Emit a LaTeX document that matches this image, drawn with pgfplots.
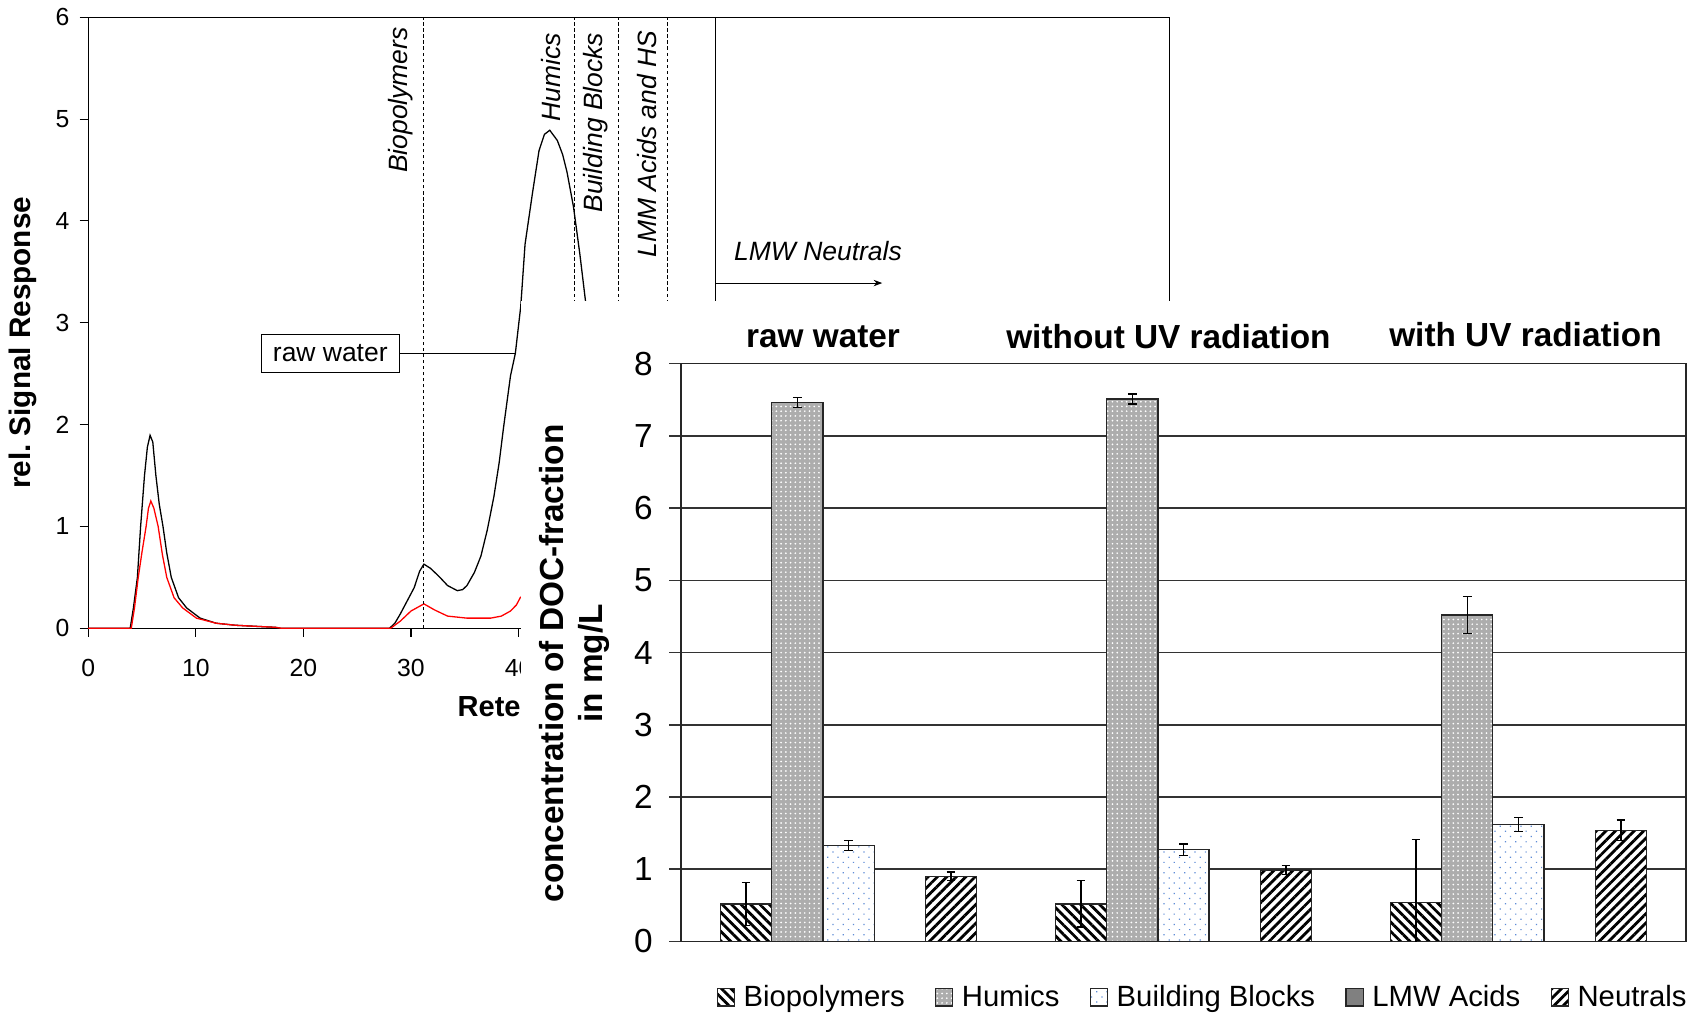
\documentclass[border=0pt]{standalone}
\usepackage{pgfplots}
\pgfplotsset{compat=1.18}
\usepackage{fontspec}
\setmainfont{Liberation Sans}
\usetikzlibrary{patterns.meta,arrows.meta,calc}

\definecolor{bbdot}{RGB}{95,140,215}
\definecolor{lmwgray}{RGB}{128,128,128}

\pgfplotsset{
  biostyle/.style={draw=black!85, line width=0.6pt, fill=white,
    postaction={pattern={Lines[angle=-45,distance=3.1pt,line width=1.3pt]}, pattern color=black}},
  humstyle/.style={draw=black!85, line width=0.6pt, fill=black!32,
    postaction={pattern={Dots[distance=2.2pt,radius=0.45pt]}, pattern color=white}},
  bbstyle/.style={draw=black!85, line width=0.6pt, fill=white,
    postaction={pattern={Dots[distance=3.4pt,angle=45,radius=0.4pt]}, pattern color=bbdot}},
  lmwstyle/.style={draw=black!85, line width=0.6pt, fill=lmwgray},
  neustyle/.style={draw=black!85, line width=0.6pt, fill=white,
    postaction={pattern={Lines[angle=45,distance=3.1pt,line width=1.3pt]}, pattern color=black}},
}

\begin{document}
\begin{tikzpicture}
% ---------------- chromatogram (background) ----------------
\begin{axis}[
  at={(41pt,-292pt)}, anchor=south west,
  scale only axis, width=502.5pt, height=284pt,
  xmin=0, xmax=100.5, ymin=0, ymax=6,
  xtick={0,10,20,30,40}, ytick={0,1,...,6},
  tick align=outside, xtick pos=left, ytick pos=left,
  major tick length=4pt,
  tick style={black, line width=0.5pt},
  axis line style={black, line width=0.6pt},
  /pgf/number format/assume math mode=true,
  tick label style={font=\fontsize{11.5}{13}\selectfont, inner sep=0pt},
  xticklabel shift=10pt,
  yticklabel shift=4.5pt,
  ylabel={rel.\ Signal Response},
  ylabel style={at={($(rel axis cs:0,0.467)+(-23.75pt,0)$)}, anchor=south, inner sep=0pt,
    font=\bfseries\fontsize{13.8}{16}\selectfont},
  xlabel={Rete},
  xlabel style={at={(rel axis cs:0.3413,0)}, anchor=north west, inner sep=0pt, yshift=-31.5pt,
    font=\bfseries\fontsize{13.5}{16}\selectfont},
]
\addplot[black, line width=0.6pt] coordinates {
(0,0) (3.9,0) (4.2,0.2) (4.57,0.5) (4.87,1.0) (5.23,1.5) (5.5,1.78) (5.75,1.895) (6.0,1.83)
(6.29,1.5) (6.6,1.22) (6.95,1.0) (7.3,0.74) (7.72,0.5) (8.4,0.3) (9.15,0.2) (10.4,0.1)
(11.9,0.05) (13.7,0.03) (15.5,0.02) (17.4,0.01) (17.9,0) (28.0,0) (28.5,0.05) (29.0,0.14)
(29.6,0.26) (30.3,0.40) (30.8,0.56) (31.2,0.63) (31.8,0.59) (32.6,0.51) (33.4,0.42) (34.3,0.37)
(34.8,0.38) (35.2,0.42) (35.9,0.55) (36.5,0.71) (37.1,0.97) (37.7,1.29) (38.2,1.63) (38.6,1.97)
(39.25,2.48) (39.7,2.70) (40.2,3.16) (40.6,3.77) (41.3,4.28) (41.9,4.69) (42.4,4.85) (42.9,4.89)
(43.6,4.79) (44.1,4.65) (44.5,4.48) (45.1,4.14) (45.7,3.67) (46.2,3.23) (46.8,2.7)
};
\addplot[red, line width=0.6pt] coordinates {
(0,0) (4.0,0) (4.3,0.2) (4.65,0.5) (5.0,0.75) (5.38,1.0) (5.6,1.18) (5.82,1.25) (6.1,1.18)
(6.5,1.0) (6.9,0.72) (7.3,0.5) (7.98,0.3) (8.78,0.2) (10.06,0.1) (11.9,0.05) (13.7,0.03)
(15.5,0.02) (17.4,0.01) (18,0) (28.1,0) (29.0,0.07) (30.0,0.17) (31.2,0.24) (32.2,0.18)
(33.4,0.12) (34.3,0.11) (35.2,0.10) (36.3,0.10) (37.4,0.10) (38.4,0.12) (39.25,0.17)
(39.8,0.23) (40.2,0.31)
};
\addplot[black, line width=0.5pt, dash pattern=on 1.6pt off 1.2pt] coordinates {(31.2,0) (31.2,6)};
\addplot[black, line width=0.5pt, dash pattern=on 1.6pt off 1.2pt] coordinates {(45.2,0) (45.2,6)};
\addplot[black, line width=0.5pt, dash pattern=on 1.6pt off 1.2pt] coordinates {(49.3,0) (49.3,6)};
\addplot[black, line width=0.5pt, dash pattern=on 1.6pt off 1.2pt] coordinates {(53.8,0) (53.8,6)};
\addplot[black, line width=0.6pt] coordinates {(58.3,0) (58.3,6)};
\addplot[black, line width=0.5pt, -{Stealth[length=4pt,width=3pt]}] coordinates {(58.3,3.39) (73.8,3.39)};

\node[rotate=90, anchor=east, inner sep=0pt, font=\itshape\fontsize{12.3}{14}\selectfont] at (axis cs:29.0,5.905) {Biopolymers};
\node[rotate=90, anchor=east, inner sep=0pt, font=\itshape\fontsize{12.3}{14}\selectfont] at (axis cs:43.0,5.85) {Humics};
\node[rotate=90, anchor=east, inner sep=0pt, font=\itshape\fontsize{12.3}{14}\selectfont] at (axis cs:47.2,5.85) {Building Blocks};
\node[rotate=90, anchor=east, inner sep=0pt, font=\itshape\fontsize{12.3}{14}\selectfont] at (axis cs:51.9,5.87) {LMM Acids and HS};
\node[anchor=west, inner sep=0pt, font=\itshape\fontsize{12.3}{14}\selectfont] at (axis cs:60.0,3.70) {LMW Neutrals};

\draw[black, line width=0.5pt] (axis cs:28.9,2.70) -- (axis cs:39.7,2.70);
\node[draw=black, fill=white, line width=0.6pt, minimum width=64pt, minimum height=17.5pt, inner sep=0pt,
  font=\fontsize{12.3}{14}\selectfont] at (axis cs:22.5,2.70) {raw water};
\end{axis}

% white panel of the inset chart
\fill[white] (242pt,-140pt) rectangle (790pt,-480pt);

% ---------------- DOC fractions (bar chart) ----------------
\begin{axis}[
  at={(316.5pt,-437.5pt)}, anchor=south west,
  scale only axis, width=467pt, height=268.5pt,
  xmin=-0.5, xmax=2.5, ymin=0, ymax=8,
  xtick=\empty, ytick={0,...,8},
  ymajorgrids, major grid style={black!80, line width=0.7pt},
  tick align=outside, ytick pos=left, major tick length=5.4pt,
  tick style={black!80, line width=0.7pt},
  axis line style={black!85, line width=0.7pt},
  /pgf/number format/assume math mode=true,
  yticklabel style={font=\fontsize{15.5}{18}\selectfont, inner sep=0pt},
  yticklabel shift=7.6pt,
  ylabel={concentration of DOC-fraction\\in mg/L},
  ylabel style={align=center, at={($(rel axis cs:0,0.440)+(-33pt,0)$)}, anchor=south, inner sep=0pt,
    font=\bfseries\fontsize{15.5}{18}\selectfont},
  clip mode=individual,
  error bars/y dir=both, error bars/y explicit,
  error bars/error bar style={black, line width=0.6pt},
  error bars/error mark options={rotate=90, mark size=2pt, line width=0.6pt, black},
  legend columns=5,
  legend cell align=left,
  legend image code/.code={\draw[#1] (0pt,-4pt) rectangle (8pt,4pt);},
  legend style={at={(0.518,0)}, anchor=center, yshift=-26pt, draw=none, fill=none,
    font=\fontsize{13.6}{16}\selectfont, nodes={inner sep=0pt},
    /tikz/every odd column/.append style={column sep=4pt},
    /tikz/every even column/.append style={column sep=14pt}},
]
\addplot[biostyle, ybar, bar width=0.153, bar shift=0] coordinates {
  (-0.306,0.52) +- (0,0.30) (0.694,0.52) +- (0,0.32) (1.694,0.54) +- (0,0.87)};
\addlegendentry{Biopolymers}
\addplot[humstyle, ybar, bar width=0.153, bar shift=0] coordinates {
  (-0.153,7.46) +- (0,0.07) (0.847,7.51) +- (0,0.07) (1.847,4.52) +- (0,0.26)};
\addlegendentry{Humics}
\addplot[bbstyle, ybar, bar width=0.153, bar shift=0] coordinates {
  (0,1.33) +- (0,0.07) (1,1.27) +- (0,0.08) (2,1.62) +- (0,0.10)};
\addlegendentry{Building Blocks}
\addplot[lmwstyle, ybar, bar width=0.153, bar shift=0, error bars/y dir=none] coordinates {
  (0.153,0) (1.153,0) (2.153,0)};
\addlegendentry{LMW Acids}
\addplot[neustyle, ybar, bar width=0.153, bar shift=0] coordinates {
  (0.306,0.90) +- (0,0.06) (1.306,0.99) +- (0,0.06) (2.306,1.54) +- (0,0.14)};
\addlegendentry{Neutrals}

\node[font=\bfseries\fontsize{15.5}{18}\selectfont, yshift=12.5pt] at (axis cs:-0.076,8) {raw water};
\node[font=\bfseries\fontsize{15.5}{18}\selectfont, yshift=12.5pt] at (axis cs:0.955,8) {without UV radiation};
\node[font=\bfseries\fontsize{15.5}{18}\selectfont, yshift=13.5pt] at (axis cs:2.021,8) {with UV radiation};
\end{axis}

\pgfresetboundingbox
\path[use as bounding box] (0pt,0pt) rectangle (784pt,-470.5pt);
\end{tikzpicture}
\end{document}
